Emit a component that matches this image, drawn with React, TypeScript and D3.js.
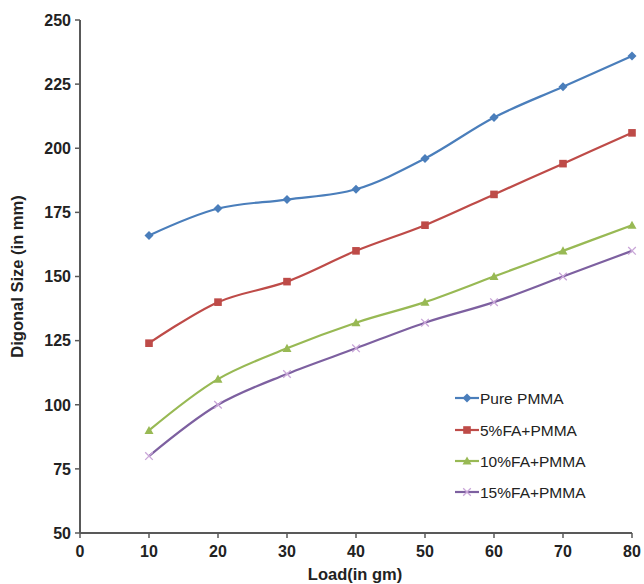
import React from "react";
import * as d3 from "d3";

const loads = [10, 20, 30, 40, 50, 60, 70, 80];
const pure = [166, 176.5, 180, 184, 196, 212, 224, 236];
const fa5 = [124, 140, 148, 160, 170, 182, 194, 206];
const fa10 = [90, 110, 122, 132, 140, 150, 160, 170];
const fa15 = [80, 100, 112, 122, 132, 140, 150, 160];
const seriesNames = ["Pure PMMA", "5%FA+PMMA", "10%FA+PMMA", "15%FA+PMMA"];
const seriesColors = ["#4a7ebb", "#be4b48", "#98b954", "#7d60a0"];
const seriesMarkers = ["diamond", "square", "triangle", "x"];
const xTicks = [0, 10, 20, 30, 40, 50, 60, 70, 80];
const yTicks = [50, 75, 100, 125, 150, 175, 200, 225, 250];

const W = 644, H = 584;
const x = d3.scaleLinear().domain([0, 80]).range([80, 632]);
const y = d3.scaleLinear().domain([50, 250]).range([533, 20]);

function Marker({ type, cx, cy, color }: { type: string; cx: number; cy: number; color: string }) {
  if (type === "diamond") {
    const s = 4.5;
    return <path d={`M${cx},${cy - s}L${cx + s},${cy}L${cx},${cy + s}L${cx - s},${cy}Z`} fill={color} />;
  }
  if (type === "square") {
    return <rect x={cx - 3.8} y={cy - 3.8} width={7.6} height={7.6} fill={color} />;
  }
  if (type === "triangle") {
    const s = 4.5;
    return <path d={`M${cx},${cy - s}L${cx + s},${cy + s * 0.8}L${cx - s},${cy + s * 0.8}Z`} fill={color} />;
  }
  const s = 3.8;
  return (
    <path d={`M${cx - s},${cy - s}L${cx + s},${cy + s}M${cx - s},${cy + s}L${cx + s},${cy - s}`} stroke="#c9a6d8" strokeWidth={1.3} fill="none" />
  );
}

export default function App() {
  const data = [pure, fa5, fa10, fa15];
  const line = d3
    .line<number>()
    .x((_, i) => x(loads[i]))
    .y((v) => y(v))
    .curve(d3.curveCatmullRom.alpha(0.5));
  const axisColor = "#595959";
  const font = "Liberation Sans, Arial, sans-serif";
  const legendRows = [398, 430, 461, 492];
  return (
    <svg width={W} height={H} style={{ position: "absolute", left: 0, top: 0, background: "#fff" }} fontFamily={font}>
      <line x1={x(0)} x2={x(0)} y1={y(250)} y2={y(50)} stroke={axisColor} strokeWidth={2} />
      <line x1={x(0)} x2={x(80)} y1={y(50)} y2={y(50)} stroke={axisColor} strokeWidth={2} />
      {yTicks.map((t) => (
        <g key={"y" + t}>
          <line x1={x(0) - 5} x2={x(0)} y1={y(t)} y2={y(t)} stroke={axisColor} strokeWidth={1.5} />
          <text x={71} y={y(t)} dy="0.36em" textAnchor="end" fontSize={16} fontWeight="bold" fill="#222">
            {t}
          </text>
        </g>
      ))}
      {xTicks.map((t) => (
        <g key={"x" + t}>
          <line x1={x(t)} x2={x(t)} y1={y(50)} y2={y(50) + 5} stroke={axisColor} strokeWidth={1.5} />
          <text x={x(t)} y={557} textAnchor="middle" fontSize={16} fontWeight="bold" fill="#222">
            {t}
          </text>
        </g>
      ))}
      <text x={355} y={580} textAnchor="middle" fontSize={16.5} fontWeight="bold" fill="#222">
        Load(in gm)
      </text>
      <text
        transform={`translate(23,${(y(250) + y(50)) / 2}) rotate(-90)`}
        textAnchor="middle"
        fontSize={16.5}
        fontWeight="bold"
        fill="#222"
      >
        Digonal Size (in mm)
      </text>
      {data.map((vals, si) => (
        <g key={si}>
          <path d={line(vals) || ""} fill="none" stroke={seriesColors[si]} strokeWidth={2.2} />
          {vals.map((v, i) => (
            <Marker key={i} type={seriesMarkers[si]} cx={x(loads[i])} cy={y(v)} color={seriesColors[si]} />
          ))}
        </g>
      ))}
      {seriesNames.map((n, si) => (
        <g key={n}>
          <line x1={455} x2={479} y1={legendRows[si]} y2={legendRows[si]} stroke={seriesColors[si]} strokeWidth={2.2} />
          <Marker type={seriesMarkers[si]} cx={467} cy={legendRows[si]} color={seriesColors[si]} />
          <text x={480} y={legendRows[si]} dy="0.36em" fontSize={15.5} fill="#222">
            {n}
          </text>
        </g>
      ))}
    </svg>
  );
}
